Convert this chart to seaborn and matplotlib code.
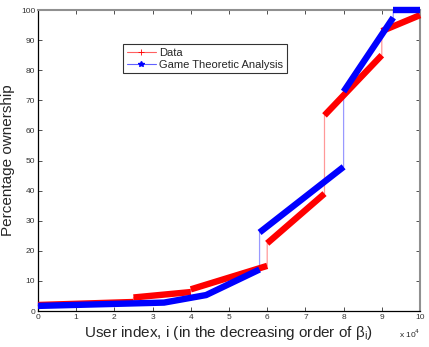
import numpy as np
import pandas as pd
import matplotlib
matplotlib.use("Agg")
import matplotlib.pyplot as plt
import seaborn as sns
from matplotlib.lines import Line2D

# breakpoints of each curve (user index, percentage ownership); seg marks continuous pieces
red_x = [0, 25000, 25000, 40000, 40000, 60000, 60000, 75000, 75000, 90000, 90000, 100000]
red_y = [2.0, 3.0, 4.5, 6.3, 7.2, 15.0, 22.5, 39.0, 65.0, 85.0, 93.0, 98.3]
red_seg = [0, 0, 1, 1, 2, 2, 3, 3, 4, 4, 5, 5]

blue_x = [0, 33000, 44000, 58000, 58000, 80000, 80000, 93000, 93000, 100000]
blue_y = [1.7, 2.8, 5.3, 13.8, 26.1, 47.9, 72.9, 97.5, 100.0, 100.0]
blue_seg = [0, 0, 0, 0, 1, 1, 2, 2, 3, 3]

x_ticks = [0, 1, 2, 3, 4, 5, 6, 7, 8, 9, 10]
y_ticks = [0, 10, 20, 30, 40, 50, 60, 70, 80, 90, 100]

df = pd.concat([
    pd.DataFrame({"x": red_x, "y": red_y, "seg": red_seg, "serie": "Data"}),
    pd.DataFrame({"x": blue_x, "y": blue_y, "seg": [s + 10 for s in blue_seg],
                  "serie": "Game Theoretic Analysis"}),
])

sns.set_style("ticks")
plt.rcParams["font.family"] = ["Liberation Sans", "DejaVu Sans"]

fig = plt.figure(figsize=(4.29, 3.47), dpi=100)
ax = fig.add_axes([0.0886, 0.1037, 0.8904, 0.8674])

farger = {"Data": "#ff0000", "Game Theoretic Analysis": "#0000ff"}

# tunna linjer genom alla punkter (inklusive hoppen)
for namn, grp in df.groupby("serie"):
    sns.lineplot(data=grp, x="x", y="y", sort=False, estimator=None, ax=ax,
                 color=farger[namn], lw=0.9, alpha=0.4, legend=False)

# tjocka band som motsvarar de täta markörerna
sns.lineplot(data=df, x="x", y="y", hue="serie", units="seg", sort=False,
             estimator=None, palette=farger, lw=4.6, ax=ax, legend=False,
             solid_capstyle="butt")
for ln in ax.lines:
    ln.set_clip_on(False)
    ln.set_zorder(3)

ax.set_xlim(0, 100000)
ax.set_ylim(0, 100)
ax.set_xticks([t * 10000 for t in x_ticks])
ax.set_xticklabels([str(t) for t in x_ticks])
ax.set_yticks(y_ticks)
ax.set_yticklabels([str(t) for t in y_ticks])
ax.tick_params(direction="in", length=3, width=0.6, labelsize=6, top=True, right=True,
               pad=2, colors="#333333")
for s in ["top", "right"]:
    ax.spines[s].set_color("#909090")
    ax.spines[s].set_linewidth(1.5)
for s in ["left", "bottom"]:
    ax.spines[s].set_color("black")
    ax.spines[s].set_linewidth(0.9)

ax.set_xlabel(r"User index, i (in the decreasing order of $\mathregular{\beta_i}$)",
              fontsize=11, labelpad=2)
ax.set_ylabel("Percentage ownership", fontsize=11, labelpad=4)
ax.text(1.0, -0.055, r"x 10$^4$", transform=ax.transAxes, fontsize=6,
        ha="right", va="top")

handles = [
    Line2D([], [], color="#ff6060", lw=0.8, marker="+", markersize=5,
           markeredgecolor="#ff0000", markeredgewidth=0.6),
    Line2D([], [], color="#6060ff", lw=0.8, marker="*", markersize=4,
           markeredgecolor="#0000ff", markerfacecolor="#0000ff"),
]
leg = ax.legend(handles, ["Data", "Game Theoretic Analysis"], loc="upper left",
                bbox_to_anchor=(0.222, 0.887), fontsize=8, frameon=True,
                fancybox=False, handlelength=2.6, handletextpad=0.3,
                borderpad=0.35, labelspacing=0.15, borderaxespad=0)
leg.get_frame().set_edgecolor("black")
leg.get_frame().set_linewidth(0.8)

fig.savefig("out.png", dpi=100)
